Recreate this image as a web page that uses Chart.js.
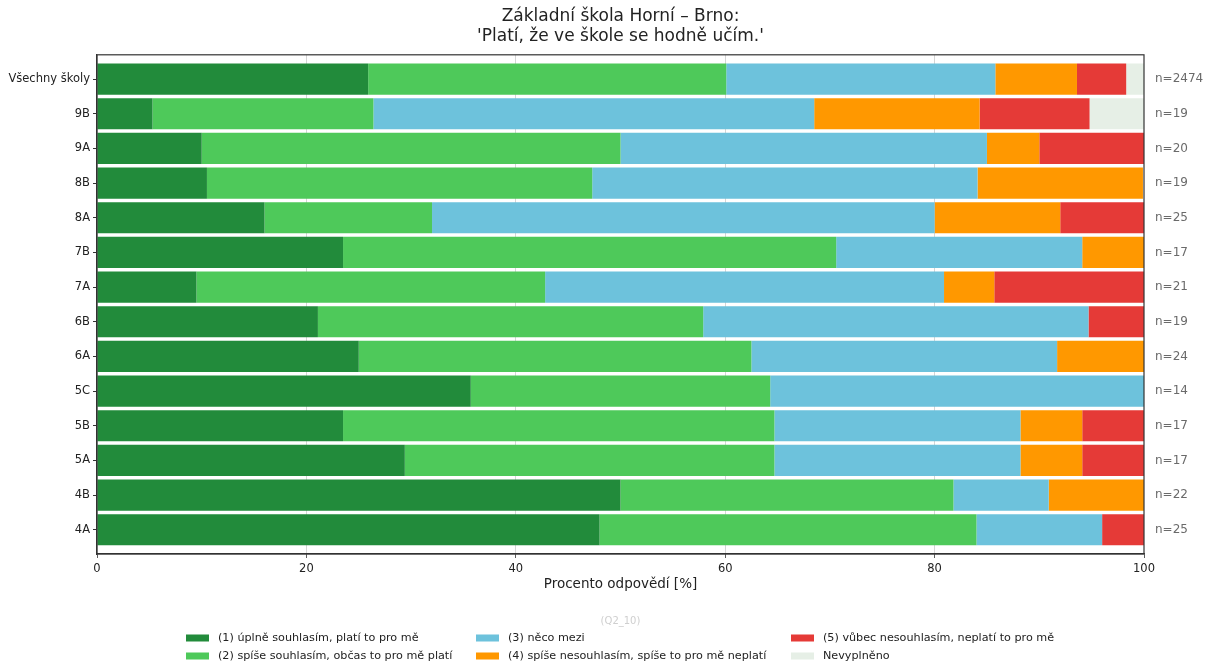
<!DOCTYPE html>
<html>
<head>
<meta charset="utf-8">
<script src="https://cdn.jsdelivr.net/npm/chart.js@4"></script>
<style>
html, body { margin: 0; padding: 0; background: #fff; }
#wrap { width: 1205px; height: 663px; }
</style>
</head>
<body>
<div id="wrap"><canvas id="chart"></canvas></div>
<script>
const categories = ['Všechny školy', '9B', '9A', '8B', '8A', '7B', '7A', '6B', '6A', '5C', '5B', '5A', '4B', '4A'];
const counts = ['n=2474', 'n=19', 'n=20', 'n=19', 'n=25', 'n=17', 'n=21', 'n=19', 'n=24', 'n=14', 'n=17', 'n=17', 'n=22', 'n=25'];
const xTicks = [0, 20, 40, 60, 80, 100];

// procenta odpovědí pro každou třídu
const uplneSouhlasim = [25.9, 5.3, 10, 10.5, 16, 23.5, 9.5, 21.1, 25, 35.7, 23.5, 29.4, 50, 48];
const spiseSouhlasim = [34.2, 21.1, 40, 36.8, 16, 47.1, 33.3, 36.8, 37.5, 28.6, 41.2, 35.3, 31.8, 36];
const necoMezi = [25.7, 42.1, 35, 36.8, 48, 23.5, 38.1, 36.8, 29.2, 35.7, 23.5, 23.5, 9.1, 12];
const spiseNesouhlasim = [7.8, 15.8, 5, 15.8, 12, 5.9, 4.8, 0, 8.3, 0, 5.9, 5.9, 9.1, 0];
const vubecNesouhlasim = [4.7, 10.5, 10, 0, 8, 0, 14.3, 5.3, 0, 0, 5.9, 5.9, 0, 4];
const nevyplneno = [1.7, 5.3, 0, 0, 0, 0, 0, 0, 0, 0, 0, 0, 0, 0];

const seriesLabels = [
    '(1) úplně souhlasím, platí to pro mě',
    '(2) spíše souhlasím, občas to pro mě platí',
    '(3) něco mezi',
    '(4) spíše nesouhlasím, spíše to pro mě neplatí',
    '(5) vůbec nesouhlasím, neplatí to pro mě',
    'Nevyplněno'
];
const seriesValues = [uplneSouhlasim, spiseSouhlasim, necoMezi, spiseNesouhlasim, vubecNesouhlasim, nevyplneno];
const seriesColors = ['#228b3b', '#4ec95a', '#6dc2dc', '#ff9800', '#e53a37', '#e6efe6'];

Chart.defaults.font.family = '"DejaVu Sans", sans-serif';

const datasets = seriesValues.map((values, k) => ({
    label: seriesLabels[k],
    data: categories.map((c, i) => ({ x: values[i], y: i })),
    backgroundColor: seriesColors[k],
    borderWidth: 0,
    barPercentage: 0.9,
    categoryPercentage: 1
}));

const extrasPlugin = {
    id: 'extras',
    afterDraw(chart) {
        const ctx = chart.ctx;
        const a = chart.chartArea;
        const y = chart.scales.y;
        ctx.save();
        // ramecek kolem grafu
        ctx.strokeStyle = '#333';
        ctx.lineWidth = 1.2;
        ctx.strokeRect(a.left, a.top, a.right - a.left, a.bottom - a.top);

        // n= vpravo
        ctx.font = '12px "DejaVu Sans"';
        ctx.fillStyle = '#6a6a6a';
        ctx.textAlign = 'left';
        ctx.textBaseline = 'middle';
        counts.forEach((t, i) => ctx.fillText(t, a.right + 11, y.getPixelForValue(i)));

        // kod otazky
        ctx.font = '10px "DejaVu Sans"';
        ctx.fillStyle = '#cfcfcf';
        ctx.textAlign = 'center';
        ctx.fillText('(Q2_10)', (a.left + a.right) / 2, 621);

        // legenda ve trech sloupcich
        const colX = [186, 476, 791];
        const rowY = [638, 656];
        ctx.textAlign = 'left';
        ctx.font = '11.2px "DejaVu Sans"';
        chart.data.datasets.forEach((ds, k) => {
            const cx = colX[Math.floor(k / 2)];
            const cy = rowY[k % 2];
            ctx.fillStyle = ds.backgroundColor;
            ctx.fillRect(cx, cy - 3.5, 23, 7);
            ctx.fillStyle = '#222';
            ctx.fillText(ds.label, cx + 32, cy);
        });
        ctx.restore();
    }
};

new Chart(document.getElementById('chart'), {
    type: 'bar',
    data: { datasets: datasets },
    plugins: [extrasPlugin],
    options: {
        indexAxis: 'y',
        responsive: true,
        maintainAspectRatio: false,
        animation: false,
        layout: { padding: { left: 0, right: 61, top: 0, bottom: 64 } },
        plugins: {
            legend: { display: false },
            tooltip: { enabled: false },
            title: {
                display: true,
                fullSize: false,
                text: ['Základní škola Horní – Brno:', "'Platí, že ve škole se hodně učím.'"],
                color: '#222',
                font: { size: 17, weight: 'normal', lineHeight: 1.2 },
                padding: { top: 6, bottom: 8 }
            }
        },
        scales: {
            x: {
                type: 'linear',
                stacked: true,
                min: 0,
                max: 100,
                z: 1,
                afterBuildTicks: axis => { axis.ticks = xTicks.map(v => ({ value: v })); },
                ticks: { color: '#222', font: { size: 11.5 }, padding: 4 },
                grid: {
                    color: c => (c.tick && (c.tick.value === 0 || c.tick.value === 100)) ? 'rgba(0,0,0,0)' : 'rgba(185,185,185,0.75)',
                    lineWidth: 0.8,
                    borderDash: [4, 3],
                    tickBorderDash: [],
                    tickColor: '#333',
                    tickLength: 4
                },
                border: { display: true, color: '#333', width: 1.2 },
                title: {
                    display: true,
                    text: 'Procento odpovědí [%]',
                    color: '#222',
                    font: { size: 13.5 },
                    padding: { top: 4, bottom: 6 }
                },
                afterFit: axis => { axis.height = 45; }
            },
            y: {
                type: 'linear',
                stacked: true,
                reverse: true,
                offset: false,
                min: -0.7,
                max: 13.7,
                afterBuildTicks: axis => { axis.ticks = categories.map((c, i) => ({ value: i })); },
                ticks: { callback: v => categories[v], color: '#222', font: { size: 11.5 }, padding: 3, autoSkip: false },
                grid: { offset: false, drawOnChartArea: false, tickLength: 4, color: '#333' },
                border: { color: '#333', width: 1.2 },
                afterFit: axis => { axis.width = 97; }
            }
        }
    }
});
</script>
</body>
</html>
